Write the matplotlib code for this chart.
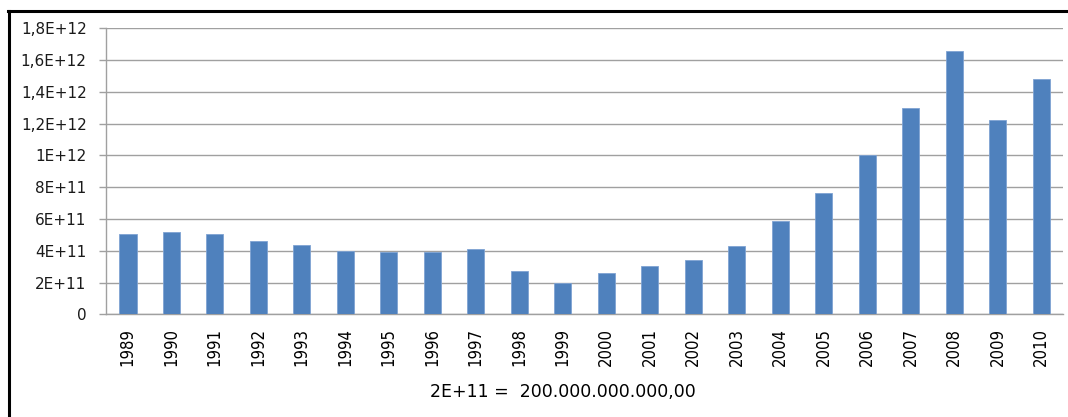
import matplotlib
matplotlib.use('Agg')
import matplotlib.pyplot as plt
from matplotlib.lines import Line2D
from matplotlib import font_manager

years = [str(y) for y in range(1989, 2011)]
values = [5.05e11, 5.16e11, 5.05e11, 4.60e11, 4.34e11, 3.96e11, 3.94e11, 3.94e11,
          4.09e11, 2.70e11, 1.99e11, 2.62e11, 3.02e11, 3.44e11, 4.32e11, 5.87e11,
          7.65e11, 1.00e12, 1.30e12, 1.66e12, 1.22e12, 1.48e12]
y_ticks = [0, 2e11, 4e11, 6e11, 8e11, 1e12, 1.2e12, 1.4e12, 1.6e12, 1.8e12]
y_tick_labels = ['0', '2E+11', '4E+11', '6E+11', '8E+11', '1E+12',
                 '1,2E+12', '1,4E+12', '1,6E+12', '1,8E+12']
note = '2E+11 =  200.000.000.000,00'

# x labels in the reference are a narrow face; use one if installed
narrow = [(f.name, f.stretch) for f in font_manager.fontManager.ttflist
          if 'Narrow' in f.name or 'Condensed' in f.name or f.stretch in ('condensed', 'semi-condensed')]
if any(n == 'Liberation Sans Narrow' for n, s in narrow):
    xfont = dict(family='Liberation Sans Narrow', fontsize=13.5)
elif any(n == 'DejaVu Sans' and s == 'condensed' for n, s in narrow):
    xfont = dict(family='DejaVu Sans', fontstretch='condensed', fontsize=12)
else:
    xfont = dict(family='Liberation Sans', fontsize=11)

fig = plt.figure(figsize=(10.68, 4.17), dpi=100)
ax = fig.add_axes([0.0993, 0.2463, 0.896, 0.6857])

x = list(range(len(years)))
ax.bar(x, values, width=0.4, color='#4F81BD', edgecolor='#7FA3D3', linewidth=0.6, zorder=3)

ax.set_xlim(-0.5, len(years) - 0.5)
ax.set_ylim(0, 1.8e12)
ax.set_yticks(y_ticks)
ax.set_yticklabels(y_tick_labels, fontsize=11, family='DejaVu Sans', color='#1a1a1a')
ax.set_xticks(x)
ax.set_xticklabels(years, rotation=90, **xfont)

ax.grid(axis='y', color='#a0a0a0', linewidth=1.0, zorder=0)
for side in ['top', 'right']:
    ax.spines[side].set_visible(False)
for side in ['left', 'bottom']:
    ax.spines[side].set_color('#a0a0a0')
    ax.spines[side].set_linewidth(1.0)
ax.tick_params(axis='y', length=5, width=1.0, color='#a0a0a0', pad=9)
ax.tick_params(axis='x', length=0, pad=10)

fig.text(0.527, 0.06, note, ha='center', va='center', fontsize=12.5, family='DejaVu Sans')

# chart frame (cropped at right and bottom)
fig.add_artist(Line2D([9 / 1068, 9 / 1068], [0, 406 / 417], color='black', linewidth=2.2,
                      transform=fig.transFigure))
fig.add_artist(Line2D([8 / 1068, 1], [406 / 417, 406 / 417], color='black', linewidth=2.2,
                      transform=fig.transFigure))

fig.savefig('out.png', dpi=100)
